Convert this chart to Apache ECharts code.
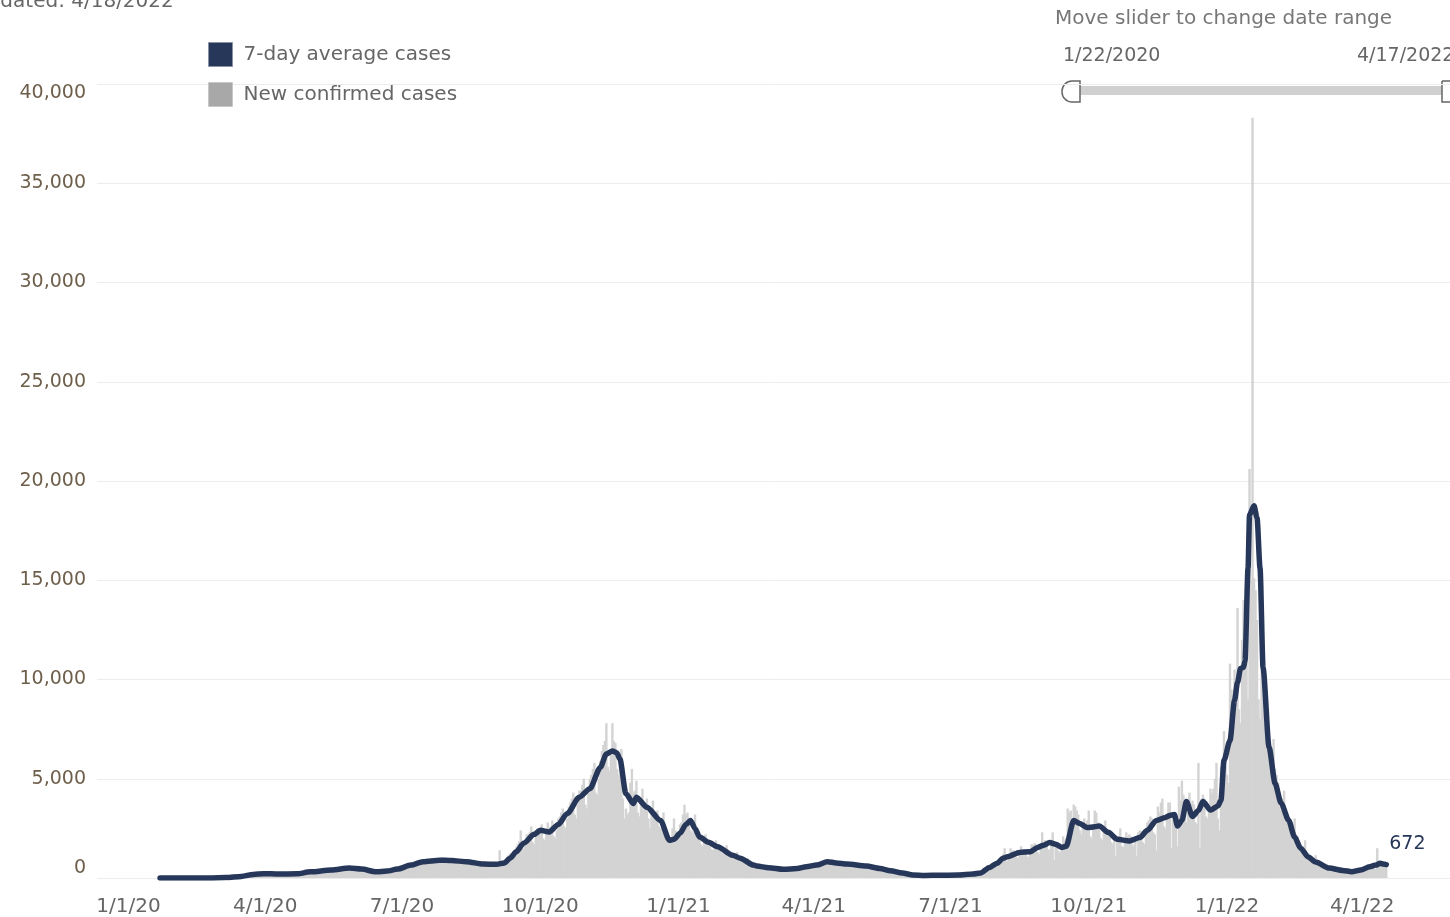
<!DOCTYPE html>
<html><head><meta charset="utf-8">
<script src="https://cdn.jsdelivr.net/npm/echarts@6/dist/echarts.min.js"></script>
<style>html,body{margin:0;padding:0;background:#fff;overflow:hidden}#c{width:1450px;height:917px}</style>
</head><body><div id="c"></div>
<script>
// ---------- DATA ----------
const firstDay = '2020-01-22';
const lastDay = '2022-04-17';
// Daily new confirmed cases, one row per week (Wed..Tue) starting 1/22/2020
const newCases = [
0,0,0,0,0,0,0,
0,0,0,0,0,0,0,
0,0,0,0,0,0,0,
0,0,0,0,0,0,0,
0,0,1,0,0,0,2,
1,2,3,0,1,5,8,
10,12,15,8,12,25,30,
40,50,60,45,55,75,90,
110,130,150,140,160,170,190,
200,230,240,180,170,200,240,
230,240,220,190,180,200,230,
210,220,200,180,170,190,230,
210,220,210,180,170,200,240,
240,260,270,220,210,240,300,
320,330,340,270,260,290,350,
360,380,370,310,300,330,400,
410,430,420,350,340,390,450,
460,480,470,400,380,430,500,
500,520,510,430,400,450,530,
440,460,440,370,350,390,450,
350,360,340,290,280,300,370,
350,370,360,300,290,320,390,
440,470,460,380,370,420,500,
600,640,600,480,500,560,700,
770,800,790,650,640,720,880,
870,900,890,740,720,810,980,
920,950,930,780,760,850,1040,
900,930,920,780,750,840,1020,
870,900,880,740,720,800,980,
820,850,830,700,680,760,920,
740,760,750,620,600,690,830,
700,720,710,600,580,660,800,
720,760,1400,620,600,700,880,
1050,1150,1250,1000,950,1200,1550,
1700,1850,2400,1500,1450,1800,2200,
2200,2300,2600,1800,1700,2100,2500,
2400,2500,2700,2000,1900,2300,2800,
2500,2600,2900,2100,2000,2400,3000,
3100,3300,3500,2600,2500,3000,3600,
3800,4000,4300,3200,3000,3700,4400,
4400,4700,5000,3700,3500,4300,5000,
5200,5500,5800,4300,4200,5000,5900,
6400,6700,6900,7800,5600,5400,6300,
7800,6900,6800,5500,5200,6000,6500,
4000,3000,3500,3200,3300,4800,5500,
4300,4400,4900,3300,3100,3800,4500,
3700,3800,4000,3000,2500,3300,3900,
3200,3300,3400,2600,2500,2900,3300,
2300,2000,1800,1900,1900,2500,3000,
2400,2100,2300,2700,2800,3200,3700,
3200,3300,3000,2400,2300,2800,3200,
2200,2300,2200,1700,1600,1900,2200,
1800,1850,1800,1450,1400,1650,1900,
1550,1600,1550,1250,1200,1400,1650,
1250,1300,1250,1000,950,1100,1300,
950,1000,950,780,740,850,1000,
700,720,700,560,540,620,720,
580,600,580,480,460,530,600,
500,520,510,420,400,460,530,
460,480,470,380,370,420,480,
490,510,500,410,400,450,520,
560,580,570,470,450,520,600,
660,690,670,550,530,610,720,
820,850,830,680,650,760,880,
780,800,780,640,620,720,820,
720,740,730,600,580,670,770,
670,690,680,560,540,620,710,
600,620,610,500,480,560,640,
480,500,490,400,380,440,510,
370,380,370,300,290,340,390,
280,290,280,220,200,250,300,
180,190,185,150,140,165,195,
150,155,150,120,115,135,160,
140,145,140,110,105,125,150,
145,150,145,115,110,130,155,
155,160,150,120,115,140,165,
175,180,175,140,135,160,190,
220,230,225,180,175,210,250,
300,350,400,330,350,430,560,
650,700,760,620,640,800,900,
1100,1200,1500,900,850,1050,1500,
1300,1400,1350,1050,1000,1250,1600,
1400,1450,1400,1100,1050,1300,1700,
1650,1750,1700,1300,1200,1500,2300,
1800,1900,1850,1450,1400,1700,2300,
900,1800,1750,1350,1300,1600,2100,
1900,2000,3500,3300,3400,3000,3700,
3600,3400,3200,2400,2200,2600,3000,
2700,2900,3400,2100,2000,2500,3400,
3300,2800,2700,2000,1900,2400,2900,
2300,2400,2300,1800,1700,2000,1100,
2000,2100,2500,1600,1550,1850,2300,
2100,2200,2100,1700,1600,2000,1100,
2300,2400,2350,1800,1700,2100,2800,
2900,3100,3000,2300,2200,1400,3600,
3300,3800,4000,2600,2500,3000,3800,
3800,1500,3300,2600,2500,1600,4600,
3900,4900,4200,3000,2800,3300,4300,
3700,3900,3700,2800,2700,5800,1500,
4000,4200,4000,3100,3000,3500,4500,
4300,4500,5000,5800,3000,2400,5600,
5600,7400,6000,5200,4800,10800,9500,
9000,10500,9800,13600,8500,7800,12000,
14000,12500,11000,9000,20600,15000,38300,
15100,14500,13000,9000,8000,10500,11000,
9500,8800,8000,6000,5500,6500,7000,
5500,5200,4800,3600,3400,4000,4400,
3500,3300,3000,2300,2200,2700,3000,
2200,2100,1900,1500,1400,1600,1900,
1300,1250,1150,900,850,1000,1150,
800,780,720,560,540,640,720,
560,540,500,390,370,440,500,
420,410,380,300,290,340,390,
350,340,330,260,250,300,350,
400,420,430,380,400,500,700,
650,700,720,480,450,1500,700,
700,720,690,560,520
];

// 7-day average cases (read at key dates)
const avgDates = [
'2020-01-22','2020-02-10','2020-02-25','2020-03-06','2020-03-16','2020-03-24','2020-03-31','2020-04-10','2020-04-22','2020-05-01',
'2020-05-15','2020-05-27','2020-06-04','2020-06-14','2020-06-21','2020-06-28','2020-07-07','2020-07-15','2020-07-26','2020-08-03',
'2020-08-13','2020-08-24','2020-09-02','2020-09-07','2020-09-11','2020-09-15','2020-09-20','2020-09-27','2020-10-01','2020-10-07',
'2020-10-13','2020-10-19','2020-10-27','2020-11-03','2020-11-10','2020-11-14','2020-11-18','2020-11-21','2020-11-23','2020-11-27',
'2020-12-02','2020-12-04','2020-12-11','2020-12-20','2020-12-26','2020-12-29','2021-01-02','2021-01-06','2021-01-09','2021-01-12',
'2021-01-15','2021-01-21','2021-01-27','2021-02-06','2021-02-11','2021-02-20','2021-02-22','2021-03-02','2021-03-12','2021-03-21',
'2021-03-27','2021-04-03','2021-04-10','2021-04-16','2021-04-23','2021-05-06','2021-05-15','2021-05-22','2021-05-30','2021-06-06',
'2021-06-14','2021-06-24','2021-07-06','2021-07-16','2021-07-21','2021-07-27','2021-08-01','2021-08-05','2021-08-08','2021-08-16',
'2021-08-23','2021-08-28','2021-09-01','2021-09-05','2021-09-09','2021-09-13','2021-09-16','2021-09-21','2021-09-25','2021-09-30',
'2021-10-05','2021-10-08','2021-10-14','2021-10-20','2021-10-28','2021-11-04','2021-11-09','2021-11-15','2021-11-21','2021-11-24',
'2021-11-27','2021-11-29','2021-12-02','2021-12-05','2021-12-09','2021-12-13','2021-12-16','2021-12-21','2021-12-26','2021-12-28',
'2021-12-30','2022-01-03','2022-01-06','2022-01-08','2022-01-10','2022-01-12','2022-01-13','2022-01-15','2022-01-16','2022-01-19',
'2022-01-21','2022-01-23','2022-01-25','2022-01-29','2022-02-02','2022-02-06','2022-02-11','2022-02-15','2022-02-19','2022-02-24',
'2022-03-01','2022-03-10','2022-03-19','2022-03-25','2022-03-31','2022-04-06','2022-04-10','2022-04-13','2022-04-15','2022-04-17'
];
const avgValues = [
0,0,5,20,80,180,220,200,210,310,
400,500,450,310,350,450,650,820,900,880,
820,700,690,760,1000,1320,1750,2200,2400,2320,
2700,3250,4070,4500,5570,6250,6400,6300,6000,4250,
3750,4070,3570,2900,1900,1950,2250,2700,2900,2500,
2070,1800,1570,1150,1000,650,600,520,435,480,
570,650,820,760,700,600,480,365,250,150,
130,135,150,200,250,535,740,1000,1070,1290,
1320,1540,1650,1790,1700,1540,1600,2900,2750,2540,
2580,2620,2300,1950,1870,2040,2400,2900,3050,3150,
3200,2620,2900,3850,3100,3400,3850,3420,3630,3920,
5930,6930,8940,9860,10550,10620,10950,15600,18300,18750,
18150,15600,10600,6580,4770,3770,2910,2060,1500,1060,
800,500,380,320,400,570,650,740,700,672
];

const xTickDates = ['2020-01-01','2020-04-01','2020-07-01','2020-10-01','2021-01-01','2021-04-01','2021-07-01','2021-10-01','2022-01-01','2022-04-01'];
const yMax = 40000, yStep = 5000;

const legendNames = ['7-day average cases', 'New confirmed cases'];
const titleText = 'Updated: 4/18/2022';
const sliderCaption = 'Move slider to change date range';

// ---------- HELPERS ----------
function parseDay(s, add) {
  const p = s.split('-').map(Number);
  return new Date(p[0], p[1] - 1, p[2] + (add || 0)).getTime();
}
function fmtShort(t) {
  const d = new Date(t);
  return (d.getMonth() + 1) + '/' + d.getDate() + '/' + String(d.getFullYear()).slice(2);
}
function fmtLong(t) {
  const d = new Date(t);
  return (d.getMonth() + 1) + '/' + d.getDate() + '/' + d.getFullYear();
}
const barData = newCases.map((v, i) => [parseDay(firstDay, i), v]);
const avgData = avgDates.map((s, i) => [parseDay(s), avgValues[i]]);
const DAY = 86400000;
const t0 = parseDay('2020-01-01');

const FONT = 'DejaVu Sans';
const chart = echarts.init(document.getElementById('c'), null, {renderer: 'canvas'});
chart.setOption({
  animation: false,
  backgroundColor: '#fff',
  textStyle: {fontFamily: FONT},
  grid: {left: 97, right: 0, top: 84, bottom: 39, containLabel: false},
  legend: {
    orient: 'vertical', left: 208, top: 42, itemWidth: 24, itemHeight: 24, itemGap: 15,
    padding: 0, selectedMode: false,
    textStyle: {fontSize: 20, color: '#666', fontFamily: FONT, padding: [0, 0, 0, 6]},
    data: [
      {name: legendNames[0], icon: 'rect', itemStyle: {color: '#263759', borderColor: '#8a93a6', borderWidth: 1}},
      {name: legendNames[1], icon: 'rect', itemStyle: {color: '#a8a8a8', borderColor: '#c8c8c8', borderWidth: 1}}
    ]
  },
  xAxis: {
    type: 'value',
    min: t0 - 20.96 * DAY,
    max: t0 + 879.4 * DAY,
    axisLine: {show: false},
    axisTick: {show: false},
    splitLine: {show: false},
    axisLabel: {
      customValues: xTickDates.map(s => parseDay(s)),
      formatter: v => fmtShort(v),
      color: '#666', fontSize: 20, margin: 19, fontFamily: FONT, hideOverlap: false
    }
  },
  yAxis: {
    type: 'value', min: 0, max: yMax, interval: yStep,
    axisLine: {show: false}, axisTick: {show: false},
    splitLine: {lineStyle: {color: '#ececec', width: 1}},
    axisLabel: {
      formatter: v => v.toLocaleString('en-US'),
      color: '#6e5f4b', fontSize: 19, margin: 11, fontFamily: FONT,
      verticalAlignMinLabel: 'bottom', verticalAlignMaxLabel: 'top'
    }
  },
  series: [
    {
      name: legendNames[1], type: 'bar', data: barData, barWidth: 2.4,
      itemStyle: {color: '#d3d3d3'}, silent: true, z: 1
    },
    {
      name: legendNames[0], type: 'line', data: avgData, showSymbol: false,
      smooth: 0.25, smoothMonotone: 'x',
      lineStyle: {color: '#263759', width: 5.5, cap: 'round', join: 'round'},
      itemStyle: {color: '#263759'},
      endLabel: {show: true, formatter: p => String(p.value[1]), color: '#263759', fontSize: 19, fontFamily: FONT, offset: [0, -21], distance: 3},
      z: 3
    }
  ],
  graphic: [
    {type: 'text', left: -27, top: -8, style: {text: titleText, fill: '#666', font: '20px ' + FONT}},
    {type: 'text', left: 1055, top: 9, style: {text: sliderCaption, fill: '#777', font: '20px ' + FONT}},
    {type: 'text', left: 1063, top: 47, style: {text: fmtLong(parseDay(firstDay)), fill: '#666', font: '19px ' + FONT}},
    {type: 'text', left: 1357, top: 47, style: {text: fmtLong(parseDay(lastDay)), fill: '#666', font: '19px ' + FONT}},
    {type: 'rect', shape: {x: 1075, y: 86, width: 372, height: 9}, style: {fill: '#d0d0d0'}},
    {type: 'rect', shape: {x: 1062, y: 81, width: 18, height: 21, r: [10, 0, 0, 10]}, style: {fill: '#fff', stroke: '#666', lineWidth: 1.5}},
    {type: 'rect', shape: {x: 1442, y: 81, width: 18, height: 21, r: [0, 10, 10, 0]}, style: {fill: '#fff', stroke: '#666', lineWidth: 1.5}}
  ]
});
</script></body></html>
